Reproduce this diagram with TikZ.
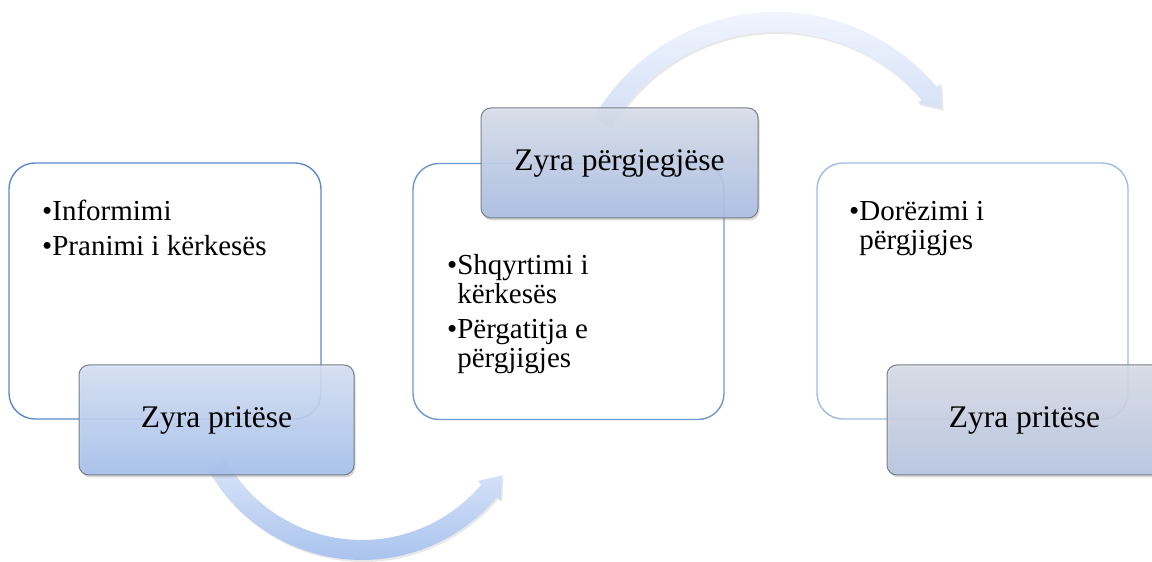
\documentclass[tikz,border=0pt]{standalone}
\usepackage{fontspec}
\setmainfont{LiberationSerif}[Extension=.ttf, UprightFont=*-Regular, BoldFont=*-Bold, ItalicFont=*-Italic, BoldItalicFont=*-BoldItalic]
\usetikzlibrary{shadows,calc}
\definecolor{boxA}{HTML}{5B89C8}
\definecolor{boxB}{HTML}{6E97CE}
\definecolor{boxC}{HTML}{A0BCE0}
\definecolor{labborder}{HTML}{767D88}
\definecolor{labAtop}{HTML}{D6E1F5}
\definecolor{labAbot}{HTML}{A5C0EE}
\definecolor{labBtop}{HTML}{D9DFEB}
\definecolor{labBbot}{HTML}{A9BDE4}
\definecolor{labCtop}{HTML}{D9DDE7}
\definecolor{labCbot}{HTML}{B6C5E1}
\definecolor{arrAtop}{HTML}{DCE6F9}
\definecolor{arrAbot}{HTML}{A9C3EE}
\definecolor{arrBtop}{HTML}{F0F4FD}
\definecolor{arrBbot}{HTML}{D3DFF7}
\begin{document}
\begin{tikzpicture}[x=1pt,y=1pt,
  whitebox/.style={draw, line width=1.4pt, rounded corners=26pt, fill=white,
    minimum width=312pt, minimum height=256pt, inner sep=0pt},
  labelbox/.style={draw=labborder, line width=1pt, rounded corners=10pt,
    minimum width=275pt, minimum height=110pt, inner sep=0pt,
    font=\fontsize{31.5}{36}\selectfont, fill opacity=0.88, text opacity=1,
    drop shadow={shadow xshift=1.5pt, shadow yshift=-2.5pt, opacity=0.3}},
  bullets/.style={anchor=base west, inner sep=0pt, font=\fontsize{29}{29}\selectfont},
  flowarrow/.style={draw=none,
    drop shadow={shadow xshift=1.5pt, shadow yshift=-2pt, opacity=0.18}}
]
\useasboundingbox (0,0) rectangle (1152,562);
\clip (0,0) rectangle (1152,562);

% white content boxes
\node[whitebox, draw=boxA] (b1) at (165,271) {};
\node[whitebox, draw=boxB, minimum width=311pt] (b2) at (568.5,270.5) {};
\node[whitebox, draw=boxC, minimum width=311pt] (b3) at (972.5,271) {};

% curved arrows
\coordinate (o1) at (362,178);
\shade[flowarrow, top color=arrAtop, bottom color=arrAbot]
  ($(o1)+(208:176)$) arc[start angle=208, end angle=320, radius=176]
  -- ($(o1)+(320:181)$) -- ($(o1)+(320:166)+(50:20)$) -- ($(o1)+(320:151)$)
  -- ($(o1)+(320:156)$) arc[start angle=320, end angle=208, radius=156] -- cycle;

\coordinate (o2) at (776,340);
\shade[flowarrow, top color=arrBtop, bottom color=arrBbot]
  ($(o2)+(150:210)$) arc[start angle=150, end angle=40, radius=210]
  -- ($(o2)+(40:215)$) -- ($(o2)+(40:200)+(-50:20)$) -- ($(o2)+(40:185)$)
  -- ($(o2)+(40:190)$) arc[start angle=40, end angle=150, radius=190] -- cycle;

% label boxes
\node[labelbox, top color=labAtop, bottom color=labAbot] (l1) at (216.5,142) {Zyra pritëse};
\node[labelbox, top color=labBtop, bottom color=labBbot, minimum width=277pt] (l2) at (619.5,399) {Zyra përgjegjëse};
\node[labelbox, top color=labCtop, bottom color=labCbot] (l3) at (1024.5,142) {Zyra pritëse};

% bullet texts
\node[bullets] (t1) at (42,341) {\begin{tabular}[t]{@{}l@{}l@{}}•&Informimi\\[6pt]•&Pranimi i kërkesës\end{tabular}};
\node[bullets] (t2) at (447,287) {\begin{tabular}[t]{@{}l@{}l@{}}•&Shqyrtimi i\\&kërkesës\\[6pt]•&Përgatitja e\\&përgjigjes\end{tabular}};
\node[bullets] (t3) at (849,341) {\begin{tabular}[t]{@{}l@{}l@{}}•&Dorëzimi i\\&përgjigjes\end{tabular}};
\end{tikzpicture}
\end{document}
